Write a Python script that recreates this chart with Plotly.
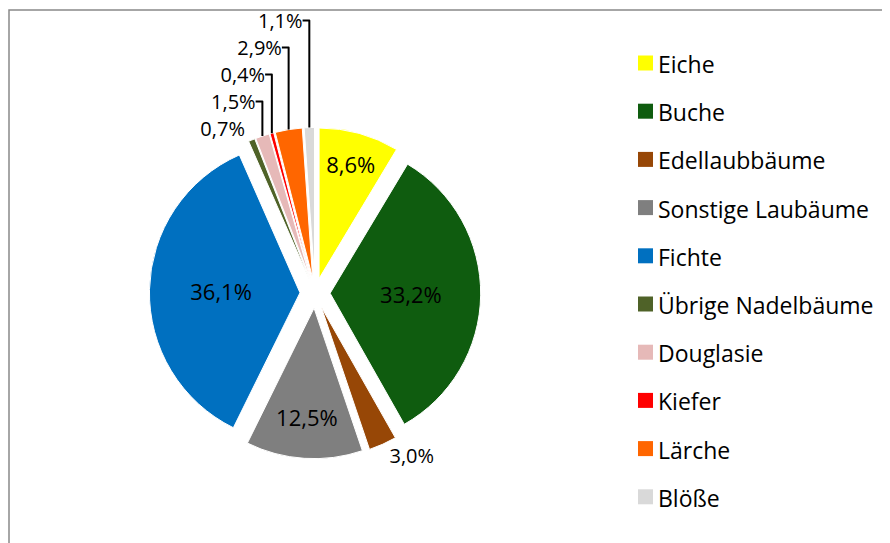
import plotly.graph_objects as go

categories = ["Eiche", "Buche", "Edellaubbäume", "Sonstige Laubäume", "Fichte",
              "Übrige Nadelbäume", "Douglasie", "Kiefer", "Lärche", "Blöße"]
values = [8.6, 33.2, 3.0, 12.5, 36.1, 0.7, 1.5, 0.4, 2.9, 1.1]
colors = ["#FFFF00", "#0F5C0F", "#974706", "#7F7F7F", "#0070C0",
          "#4F6228", "#E6B9B8", "#FF0000", "#FF6600", "#D9D9D9"]
positions = ["inside", "inside", "outside", "inside", "inside",
             "outside", "outside", "outside", "outside", "outside"]

labels_text = [f"{v:.1f}%".replace(".", ",") for v in values]
FONT = "'Open Sans', Lato, sans-serif"
W, H = 890, 543
OFF = 8  # page body margin offset

fig = go.Figure()
fig.add_trace(go.Pie(
    labels=categories,
    values=values,
    text=labels_text,
    textinfo="text",
    textposition=positions,
    insidetextorientation="horizontal",
    sort=False,
    direction="clockwise",
    rotation=0,
    pull=[0.1] * len(values),
    marker=dict(colors=colors, line=dict(color="white", width=1)),
    textfont=dict(family=FONT, size=20, color="black"),
    outsidetextfont=dict(family=FONT, size=20, color="black"),
    insidetextfont=dict(family=FONT, size=22, color="black"),
    domain=dict(x=[0.03, 0.66], y=[0.17, 0.78]),
    showlegend=False,
    hoverinfo="label+percent",
))

def px(x):
    return (x - OFF) / W

def py(y):
    return 1 - (y - OFF) / H

# Chart-area border and manual legend
shapes = [dict(type="rect", xref="paper", yref="paper",
               x0=px(9), x1=1.05, y0=-0.05, y1=py(10),
               line=dict(color="#898989", width=1.5), fillcolor="rgba(0,0,0,0)")]
annotations = []
top_px = 63
step_px = 48.2
for i, (cat, col) in enumerate(zip(categories, colors)):
    yc = top_px + i * step_px
    shapes.append(dict(type="rect", xref="paper", yref="paper",
                       x0=px(638), x1=px(653),
                       y0=py(yc + 7.5), y1=py(yc - 7.5),
                       line=dict(width=0), fillcolor=col))
    annotations.append(dict(text=cat, xref="paper", yref="paper",
                            x=px(656), y=py(yc + 1), xanchor="left", yanchor="middle",
                            showarrow=False, font=dict(family=FONT, size=23, color="black")))

fig.update_layout(
    width=W, height=H,
    margin=dict(l=0, r=0, t=0, b=0, autoexpand=False),
    paper_bgcolor="white",
    plot_bgcolor="white",
    shapes=shapes,
    annotations=annotations,
)

fig.write_html("out.html")
